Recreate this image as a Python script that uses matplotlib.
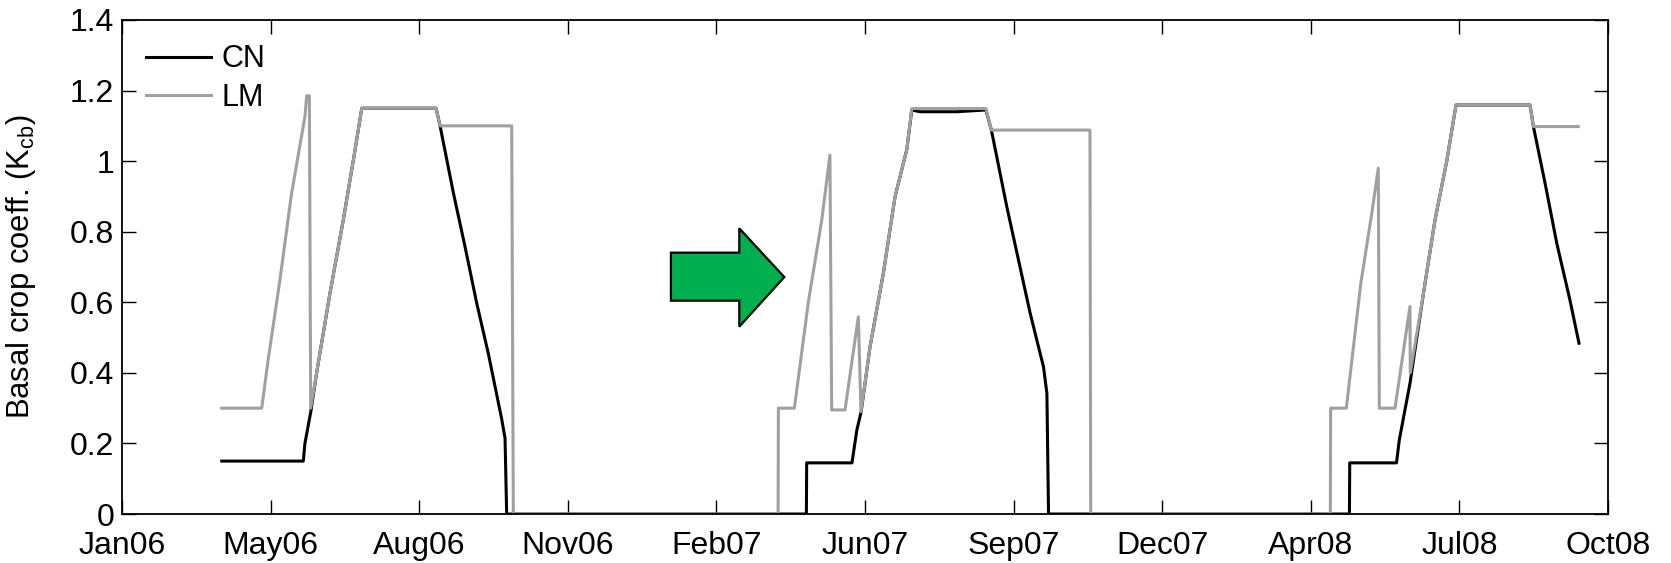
import matplotlib
matplotlib.use("Agg")
import matplotlib.pyplot as plt
from matplotlib.patches import Polygon
import numpy as np

plt.rcParams['font.family'] = ['Liberation Sans', 'DejaVu Sans']

# x = days since 1 Jan 2006
tick_labels = ["Jan06", "May06", "Aug06", "Nov06", "Feb07", "Jun07",
               "Sep07", "Dec07", "Apr08", "Jul08", "Oct08"]
x_end = 1004

cn_day = [67.4, 122.5, 123.6, 127.7, 131.5, 140.5, 149.5, 157.4, 162.0,
          212.2, 214.9, 223.9, 231.8, 239.7, 247.5, 256.5, 258.8, 259.9,
          462.4, 462.6, 493.2, 496.5, 499.4, 505.4, 514.4, 522.3, 530.2,
          533.6, 539.0, 564.0, 583.7, 587.4, 597.8, 605.7, 613.6, 622.6,
          624.9, 626.0,
          829.3, 829.5, 861.1, 863.0, 870.2, 879.3, 887.1, 895.0, 901.3,
          951.3, 953.6, 961.5, 969.4, 978.3, 984.4]
cn_kcb = [0.15, 0.15, 0.20, 0.293, 0.40, 0.625, 0.833, 1.03, 1.15,
          1.15, 1.10, 0.91, 0.757, 0.597, 0.455, 0.27, 0.215, 0.0,
          0.0, 0.145, 0.145, 0.238, 0.29, 0.474, 0.682, 0.899, 1.032,
          1.145, 1.14, 1.14, 1.145, 1.088, 0.871, 0.72, 0.569, 0.417,
          0.342, 0.0,
          0.0, 0.145, 0.145, 0.21, 0.37, 0.625, 0.833, 0.999, 1.159,
          1.159, 1.098, 0.937, 0.767, 0.606, 0.484]

lm_day = [67.4, 94.4, 98.9, 106.7, 114.6, 123.6, 124.8, 126.6, 127.5,
          131.5, 140.5, 149.5, 157.4, 162.0, 212.2, 214.9, 263.3, 264.4,
          443.3, 443.5, 454.3, 463.7, 472.8, 478.3, 479.5, 488.5, 497.5,
          499.3, 505.4, 514.4, 522.3, 530.2, 533.6, 583.7, 587.4, 654.0,
          654.5,
          816.4, 816.6, 827.2, 837.0, 844.4, 848.8, 849.5, 860.1, 870.2,
          870.4, 879.3, 887.1, 895.0, 901.3, 951.3, 953.6, 983.9]
lm_kcb = [0.30, 0.30, 0.441, 0.663, 0.909, 1.126, 1.185, 1.185, 0.30,
          0.40, 0.625, 0.833, 1.03, 1.15, 1.15, 1.10, 1.10, 0.0,
          0.0, 0.30, 0.30, 0.60, 0.833, 1.017, 0.295, 0.295, 0.559,
          0.29, 0.474, 0.682, 0.899, 1.032, 1.149, 1.149, 1.088, 1.088,
          0.0,
          0.0, 0.30, 0.30, 0.654, 0.852, 0.98, 0.30, 0.30, 0.588,
          0.40, 0.625, 0.833, 0.999, 1.159, 1.159, 1.098, 1.098]

fig = plt.figure(figsize=(16.71, 5.63), dpi=100)
ax = fig.add_axes([0.073, 0.087, 0.8893, 0.8775])

ax.plot(cn_day, cn_kcb, color='black', lw=2.2, label='CN')
ax.plot(lm_day, lm_kcb, color='#a0a0a0', lw=2.2, label='LM')

# green arrow annotation (axes fraction)
arrow = [(0.3694, 0.529), (0.4154, 0.529), (0.4154, 0.5783), (0.4457, 0.4796),
         (0.4154, 0.3792), (0.4154, 0.4318), (0.3694, 0.4318)]
ax.add_patch(Polygon(arrow, closed=True, transform=ax.transAxes,
                     facecolor='#00b050', edgecolor='black', lw=1.6, zorder=5))

ax.set_xlim(0, x_end)
ax.set_ylim(0, 1.4)
ax.set_xticks(np.linspace(0, x_end, len(tick_labels)))
ax.set_xticklabels(tick_labels)
ax.set_yticks([0, 0.2, 0.4, 0.6, 0.8, 1, 1.2, 1.4])
ax.set_yticklabels(['0', '0.2', '0.4', '0.6', '0.8', '1', '1.2', '1.4'])
ax.tick_params(direction='in', length=10, width=1, top=True, right=True,
               labelsize=23)
ax.tick_params(axis='y', pad=5.5)
ax.tick_params(axis='x', pad=12)
for s in ax.spines.values():
    s.set_linewidth(1.3)

ax.set_ylabel('Basal crop coeff. (K$_{\\mathregular{cb}}$)', fontsize=22.3)
ax.yaxis.set_label_coords(-0.0565, 0.5)

ax.legend(loc='upper left', frameon=False, fontsize=22, handlelength=2.1,
          handletextpad=0.35, labelspacing=0.28, borderaxespad=0.5,
          borderpad=0.3)

fig.savefig('out.png', dpi=100)
